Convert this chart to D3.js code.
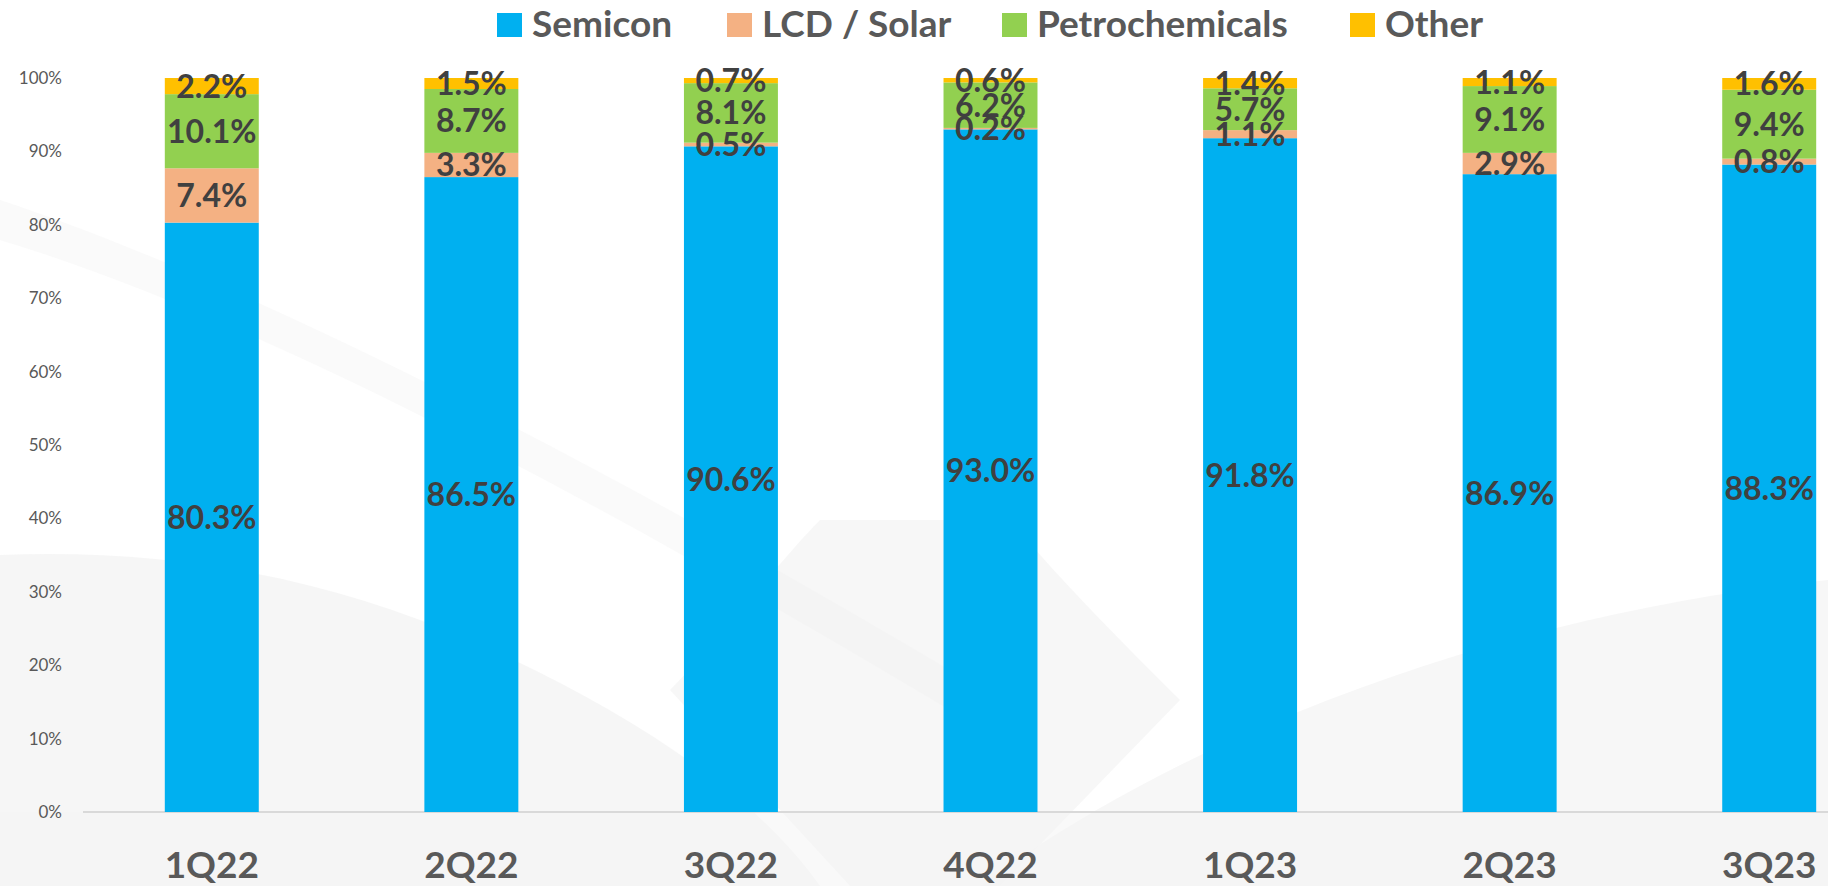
<!DOCTYPE html>
<html>
<head>
<meta charset="utf-8">
<script src="https://cdn.jsdelivr.net/npm/d3@7"></script>
<style>
  body { margin: 0; background: #fff; }
  svg { display: block; font-family: Lato, "Open Sans", sans-serif; }
</style>
</head>
<body>
<svg id="chart" width="1828" height="886"></svg>
<script>
// data
var quarters = ["1Q22", "2Q22", "3Q22", "4Q22", "1Q23", "2Q23", "3Q23"];
var seriesNames = ["Semicon", "LCD / Solar", "Petrochemicals", "Other"];
var seriesColors = ["#00B0F0", "#F4B183", "#92D050", "#FFC000"];
var semicon = [80.3, 86.5, 90.6, 93.0, 91.8, 86.9, 88.3];
var lcdSolar = [7.4, 3.3, 0.5, 0.2, 1.1, 2.9, 0.8];
var petro = [10.1, 8.7, 8.1, 6.2, 5.7, 9.1, 9.4];
var other = [2.2, 1.5, 0.7, 0.6, 1.4, 1.1, 1.6];
var yTicks = [0, 0.1, 0.2, 0.3, 0.4, 0.5, 0.6, 0.7, 0.8, 0.9, 1];

var svg = d3.select("#chart");
var width = +svg.attr("width"),
    height = +svg.attr("height");

// faint grey background swooshes
var bg = svg.append("g").attr("class", "bg");
bg.append("path")
  .attr("d", "M0,555 C180,548 330,580 470,640 C640,715 760,800 820,886 L0,886 Z")
  .style("fill", "#f2f2f2").style("opacity", 0.7);
bg.append("path")
  .attr("d", "M0,200 C300,300 700,520 1000,700 L1000,740 C700,560 300,330 0,240 Z")
  .style("fill", "#f6f6f6").style("opacity", 0.5);
bg.append("path")
  .attr("d", "M670,690 C720,640 780,560 820,520 L1010,520 C1060,580 1120,640 1180,700 L1000,886 L850,886 Z")
  .style("fill", "#eeeeee").style("opacity", 0.45);
bg.append("path")
  .attr("d", "M980,886 C1150,760 1450,620 1828,580 L1828,886 Z")
  .style("fill", "#f3f3f3").style("opacity", 0.7);
bg.append("path")
  .attr("d", "M0,812 L1828,812 L1828,886 L0,886 Z")
  .style("fill", "#f4f4f4").style("opacity", 0.5);

// scales
var x = d3.scaleBand()
    .domain(quarters)
    .range([82, 1899])
    .paddingInner(0.638)
    .paddingOuter(0.319);

var y = d3.scaleLinear()
    .domain([0, 1])
    .range([812, 78]);

// stack data
var rows = quarters.map(function (q, i) {
  var total = semicon[i] + lcdSolar[i] + petro[i] + other[i];
  return {
    quarter: q,
    "Semicon": semicon[i] / total,
    "LCD / Solar": lcdSolar[i] / total,
    "Petrochemicals": petro[i] / total,
    "Other": other[i] / total,
    raw: [semicon[i], lcdSolar[i], petro[i], other[i]]
  };
});
var stacked = d3.stack().keys(seriesNames)(rows);

// y axis labels
svg.append("g")
  .selectAll("text")
  .data(yTicks)
  .enter().append("text")
  .attr("x", 62)
  .attr("y", function (d) { return y(d); })
  .attr("dy", "0.35em")
  .attr("text-anchor", "end")
  .style("font-size", "17px")
  .style("fill", "#595959")
  .text(d3.format(".0%"));

// baseline
svg.append("line")
  .attr("x1", 83).attr("x2", width)
  .attr("y1", y(0)).attr("y2", y(0))
  .style("stroke", "#d9d9d9")
  .style("stroke-width", 2);

// bars
var layers = svg.append("g").selectAll("g.layer")
  .data(stacked)
  .enter().append("g")
  .attr("class", "layer")
  .style("fill", function (d, i) { return seriesColors[i]; });

layers.selectAll("rect")
  .data(function (d) { return d; })
  .enter().append("rect")
  .attr("x", function (d) { return x(d.data.quarter); })
  .attr("width", x.bandwidth())
  .attr("y", function (d) { return y(d[1]); })
  .attr("height", function (d) { return y(d[0]) - y(d[1]); });

// data labels, centred in each segment
var labels = svg.append("g");
stacked.forEach(function (layer, k) {
  labels.selectAll("text.l" + k)
    .data(layer)
    .enter().append("text")
    .attr("class", "l" + k)
    .attr("x", function (d) { return x(d.data.quarter) + x.bandwidth() / 2; })
    .attr("y", function (d) { return y((d[0] + d[1]) / 2); })
    .attr("dy", "0.36em")
    .attr("text-anchor", "middle")
    .style("font-size", "32px")
    .style("font-weight", "bold")
    .style("fill", "#404040")
    .text(function (d) { return d.data.raw[k].toFixed(1) + "%"; });
});

// x labels
svg.append("g")
  .selectAll("text")
  .data(quarters)
  .enter().append("text")
  .attr("x", function (d) { return x(d) + x.bandwidth() / 2; })
  .attr("y", 878)
  .attr("text-anchor", "middle")
  .style("font-size", "37px")
  .style("font-weight", "bold")
  .style("fill", "#595959")
  .text(function (d) { return d; });

// legend
var legendX = [497, 727, 1002, 1350];
var legend = svg.append("g").selectAll("g")
  .data(seriesNames)
  .enter().append("g")
  .attr("transform", function (d, i) { return "translate(" + legendX[i] + ",0)"; });
legend.append("rect")
  .attr("x", 0).attr("y", 13)
  .attr("width", 25).attr("height", 24)
  .style("fill", function (d, i) { return seriesColors[i]; });
legend.append("text")
  .attr("x", 35).attr("y", 37)
  .style("font-size", "37px")
  .style("font-weight", "bold")
  .style("fill", "#595959")
  .text(function (d) { return d; });
</script>
</body>
</html>
